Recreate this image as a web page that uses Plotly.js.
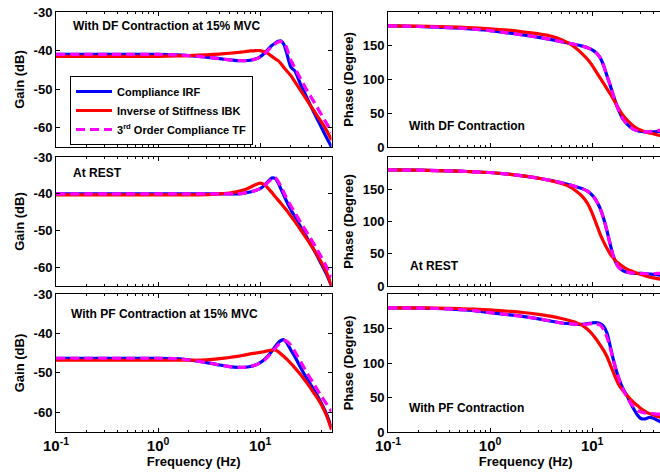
<!DOCTYPE html>
<html>
<head>
<meta charset="utf-8">
<script src="https://cdn.plot.ly/plotly-3.0.1.min.js"></script>
<style>
  html, body { margin: 0; padding: 0; overflow: hidden; background: #fff; }
  #plot { width: 668px; height: 476px; }
</style>
</head>
<body>
<div id="plot"></div>
<script>
// Frequency grid shared by every curve (Hz)
const freq = [0.1, 0.2, 0.3, 0.5, 0.7, 1, 1.5, 2, 3, 4, 5, 6, 7, 8, 9, 10, 11, 12, 13, 14, 15, 16, 17, 18, 20, 22, 25, 28, 30, 33, 36, 40, 45, 50];

// Gain (dB) - DF contraction at 15% MVC
const gainDF_IRF = [-41, -41, -41, -41, -41, -41, -41.1, -41.3, -41.7, -42.1, -42.4, -42.6, -42.6, -42.5, -42.2, -41.6, -40.7, -39.6, -38.7, -38.1, -37.6, -37.5, -38.3, -40.2, -44.3, -45.4, -48.9, -51.6, -53.3, -55.6, -57.6, -60.0, -62.7, -65];
const gainDF_IBK = [-41.5, -41.5, -41.5, -41.5, -41.5, -41.5, -41.4, -41.3, -41.1, -40.9, -40.7, -40.5, -40.3, -40.1, -40, -40, -40.3, -40.8, -41.5, -42.1, -42.6, -43.4, -44.3, -45.1, -46.5, -48.2, -50.4, -52.4, -53.6, -55.3, -56.8, -58.6, -60.8, -63.2];
const gainDF_TF  = [-41, -41, -41, -41, -41, -41, -41.1, -41.3, -41.7, -42.1, -42.4, -42.6, -42.6, -42.5, -42.2, -41.7, -40.9, -39.9, -39.0, -38.3, -37.8, -37.6, -37.8, -39.0, -42.5, -44.6, -47.4, -49.8, -51.1, -52.9, -54.6, -56.7, -59.0, -61.2];

// Gain (dB) - at rest
const gainRest_IRF = [-40, -40, -40, -40, -40, -40, -40, -40, -40, -40, -40, -40, -39.8, -39.5, -39.1, -38.6, -37.7, -36.6, -35.7, -35.8, -37.0, -38.7, -40.3, -41.8, -44.3, -46.3, -49.0, -51.3, -52.8, -54.8, -56.7, -59.2, -62.0, -65.0];
const gainRest_IBK = [-40.3, -40.3, -40.3, -40.3, -40.3, -40.3, -40.3, -40.3, -40.2, -40, -39.8, -39.4, -38.9, -38.2, -37.5, -37.1, -37.5, -38.5, -39.6, -40.7, -41.7, -42.6, -43.5, -44.3, -46.0, -47.6, -49.8, -51.8, -53.0, -54.8, -56.5, -58.7, -61.5, -65.0];
const gainRest_TF  = [-40, -40, -40, -40, -40, -40, -40, -40, -40, -40, -40, -40, -39.8, -39.5, -39.1, -38.6, -37.8, -36.8, -35.9, -35.6, -36.6, -38.0, -39.5, -41.0, -43.3, -45.2, -47.8, -50.0, -51.3, -53.2, -55.0, -57.3, -60.0, -62.7];

// Gain (dB) - PF contraction at 15% MVC
const gainPF_IRF = [-46.3, -46.3, -46.3, -46.3, -46.3, -46.3, -46.4, -46.7, -47.4, -48.0, -48.4, -48.6, -48.6, -48.4, -48.0, -47.4, -46.6, -45.6, -44.5, -43.4, -42.4, -41.8, -41.6, -42.2, -44.2, -46.0, -48.7, -51.0, -52.2, -54.0, -55.6, -57.8, -60.6, -64.0];
const gainPF_IBK = [-46.8, -46.8, -46.8, -46.8, -46.8, -46.8, -46.8, -46.8, -46.7, -46.4, -46.1, -45.8, -45.5, -45.2, -45.0, -44.8, -44.6, -44.4, -44.2, -44.2, -44.6, -45.2, -45.8, -46.4, -47.6, -48.8, -50.5, -52.2, -53.2, -54.8, -56.2, -58.2, -61.0, -64.4];
const gainPF_TF  = [-46.3, -46.3, -46.3, -46.3, -46.3, -46.3, -46.4, -46.7, -47.4, -48.0, -48.4, -48.6, -48.6, -48.4, -48.0, -47.5, -46.8, -45.8, -44.8, -43.8, -42.9, -42.2, -41.9, -41.9, -43.0, -44.7, -47.2, -49.5, -50.8, -52.5, -54.1, -56.0, -58.0, -59.8];

// Phase (degree) - DF contraction
const phaseDF_IRF = [179.5, 178.5, 177.5, 176, 174.5, 172.5, 169, 166.5, 162.5, 159, 156, 153.5, 151.5, 149.5, 147, 144, 139.5, 132, 120, 105, 92, 78, 66, 56, 41.5, 34, 27, 24, 23, 22.5, 22, 22.5, 23, 22];
const phaseDF_IBK = [179.5, 179, 178.5, 177.5, 176.5, 175, 173, 171, 167.5, 164, 159, 153, 146, 138, 130, 121, 111, 102, 94, 86, 79, 72, 65, 58, 47, 40, 32, 27, 25, 22.5, 21, 19.5, 17.5, 16];
const phaseDF_TF  = [179.5, 178.5, 177.5, 176, 174.5, 172.5, 169, 166.5, 162.5, 159, 156, 153.5, 151.5, 149.5, 147, 144, 139.5, 132, 120, 105, 92, 78, 66, 56, 41.5, 34, 27, 24, 23, 22.5, 22.5, 23.5, 24.5, 25];

// Phase (degree) - at rest
const phaseRest_IRF = [180, 179.5, 179, 178, 177, 176, 173.5, 171, 167, 163.5, 160, 157, 154, 151, 147, 141, 132, 120, 104, 85, 65, 48, 37, 30, 24, 21.5, 20, 19.5, 19.5, 19, 18.5, 18, 17, 15];
const phaseRest_IBK = [180, 179.5, 179, 178, 177, 176, 173.5, 171, 167, 163, 159, 154, 147, 139, 128, 113, 96, 80, 68, 58, 50, 44, 39, 35.5, 30, 26, 22.5, 19.5, 18, 16, 14, 12.5, 11, 9.5];
const phaseRest_TF  = [180, 179.5, 179, 178, 177, 176, 173.5, 171, 167, 163.5, 160, 157, 154, 151, 147, 141, 132, 120, 104, 85, 65, 48, 37, 30, 24, 21.5, 20, 19.5, 19.5, 19, 19, 19, 19.5, 20];

// Phase (degree) - PF contraction
const phasePF_IRF = [180, 179.5, 179, 177.5, 176, 173, 170, 168, 164, 160.5, 158, 157, 156, 156, 157, 158, 158.5, 157, 153, 143, 125, 107, 92, 80, 63, 52, 36, 24, 19.5, 19, 21, 20, 16, 12];
const phasePF_IBK = [180, 180, 179.5, 179, 178, 177, 175, 173.5, 170.5, 167.5, 164.5, 161.5, 158.5, 154.5, 149, 142, 134, 126, 118, 109, 98, 88, 78, 70, 60, 53, 44, 38, 34, 30, 27, 24.5, 22, 19.5];
const phasePF_TF  = [180, 179.5, 179, 177.5, 176, 173, 170, 168, 164, 160.5, 158, 157, 156, 156, 156.5, 157, 156.5, 155, 148, 137, 122, 106, 92, 80, 62, 50, 38, 31, 29, 27.5, 27, 26.5, 26, 26];

// Legend names, tick labels and panel labels
const seriesNames = ['Compliance IRF', 'Inverse of Stiffness IBK', '3<sup>rd</sup> Order Compliance TF'];
const freqTicks = [0.1, 1, 10];
const freqTickText = ['10<sup>-1</sup>', '10<sup>0</sup>', '10<sup>1</sup>'];
const gainTicks = [-60, -50, -40, -30];
const gainTickText = ['-60', '-50', '-40', '-30'];
const phaseTicks = [0, 50, 100, 150];
const phaseTickText = ['0', '50', '100', '150'];
const panelLabels = ['With DF Contraction at 15% MVC', 'With DF Contraction', 'At REST', 'At REST', 'With PF Contraction at 15% MVC', 'With PF Contraction'];

const W = 668, H = 476;
const FONT = '"Liberation Sans", Arial, Helvetica, sans-serif';
const colors = ['#0000ff', '#ff0000', '#ff00ff'];
const dashes = ['solid', 'solid', '9px,5px'];

const panels = [
  [gainDF_IRF, gainDF_IBK, gainDF_TF],
  [phaseDF_IRF, phaseDF_IBK, phaseDF_TF],
  [gainRest_IRF, gainRest_IBK, gainRest_TF],
  [phaseRest_IRF, phaseRest_IBK, phaseRest_TF],
  [gainPF_IRF, gainPF_IBK, gainPF_TF],
  [phasePF_IRF, phasePF_IBK, phasePF_TF]
];

const traces = [];
panels.forEach((series, p) => {
  const suffix = p === 0 ? '' : String(p + 1);
  series.forEach((vals, s) => {
    traces.push({
      x: freq, y: vals, type: 'scatter', mode: 'lines',
      name: seriesNames[s],
      showlegend: p === 0,
      xaxis: 'x' + suffix, yaxis: 'y' + suffix,
      line: { color: colors[s], width: 3.2, dash: dashes[s], shape: 'spline', smoothing: 0.6 },
      hoverinfo: 'skip'
    });
  });
});

// Pixel boxes of the six plot areas: [left, right] and [top, bottom]
const colX = [[56, 331.5], [388, 663.5]];
const rowY = [[12, 147], [157, 286], [294, 432]];

const layout = {
  width: W, height: H,
  margin: { l: 0, r: 0, t: 0, b: 0 },
  paper_bgcolor: '#fff', plot_bgcolor: '#fff',
  font: { family: FONT, size: 13, color: '#000', weight: 'bold' },
  showlegend: true,
  legend: {
    x: 70 / W, y: 1 - 76 / H, xanchor: 'left', yanchor: 'top',
    bgcolor: '#fff', bordercolor: '#000', borderwidth: 1,
    font: { family: FONT, size: 11, color: '#000', weight: 'bold' },
    tracegroupgap: 0, itemwidth: 36
  },
  annotations: []
};

for (let p = 0; p < 6; p++) {
  const col = p % 2, row = Math.floor(p / 2);
  const suffix = p === 0 ? '' : String(p + 1);
  const bottom = row === 2;
  const xa = {
    type: 'log', range: [-1, Math.log10(50)],
    domain: [colX[col][0] / W, colX[col][1] / W],
    anchor: 'y' + suffix,
    showline: true, linecolor: '#000', linewidth: 1, mirror: 'ticks',
    ticks: 'inside', ticklen: 4, tickcolor: '#000', tickwidth: 1,
    tickvals: freqTicks, ticktext: freqTickText,
    showticklabels: bottom,
    tickfont: { family: FONT, size: 15, color: '#000', weight: 'bold' },
    minor: { tickvals: [0.2, 0.3, 0.4, 0.5, 0.6, 0.7, 0.8, 0.9, 2, 3, 4, 5, 6, 7, 8, 9, 20, 30, 40],
             ticks: 'inside', ticklen: 2, tickcolor: '#000', showgrid: false },
    showgrid: false, zeroline: false, fixedrange: true
  };
  if (bottom) {
    xa.title = { text: 'Frequency (Hz)', standoff: 2, font: { family: FONT, size: 13, color: '#000', weight: 'bold' } };
  }
  const isGain = col === 0;
  const ya = {
    domain: [1 - rowY[row][1] / H, 1 - rowY[row][0] / H],
    anchor: 'x' + suffix,
    range: isGain ? [-65, -30] : [0, 200],
    tickvals: isGain ? gainTicks : phaseTicks,
    ticktext: isGain ? gainTickText : phaseTickText,
    showline: true, linecolor: '#000', linewidth: 1, mirror: 'ticks',
    ticks: 'inside', ticklen: 4, tickcolor: '#000', tickwidth: 1,
    tickfont: { family: FONT, size: 13, color: '#000', weight: 'bold' },
    title: { text: isGain ? 'Gain (dB)' : 'Phase (Degree)', standoff: 6,
             font: { family: FONT, size: 13, color: '#000', weight: 'bold' } },
    showgrid: false, zeroline: false, fixedrange: true
  };
  layout['xaxis' + suffix] = xa;
  layout['yaxis' + suffix] = ya;
}

// Condition labels inside each panel: [left px, centre px]
const labelPos = [[71, 26], [407, 126], [71, 173], [408, 266], [69, 314], [407, 408]];
labelPos.forEach((pos, i) => {
  layout.annotations.push({
    xref: 'paper', yref: 'paper', x: pos[0] / W, y: 1 - pos[1] / H,
    xanchor: 'left', yanchor: 'middle', showarrow: false,
    text: panelLabels[i],
    font: { family: FONT, size: 12, color: '#000', weight: 'bold' }
  });
});

Plotly.newPlot('plot', traces, layout, { displayModeBar: false, staticPlot: true });
</script>
</body>
</html>
